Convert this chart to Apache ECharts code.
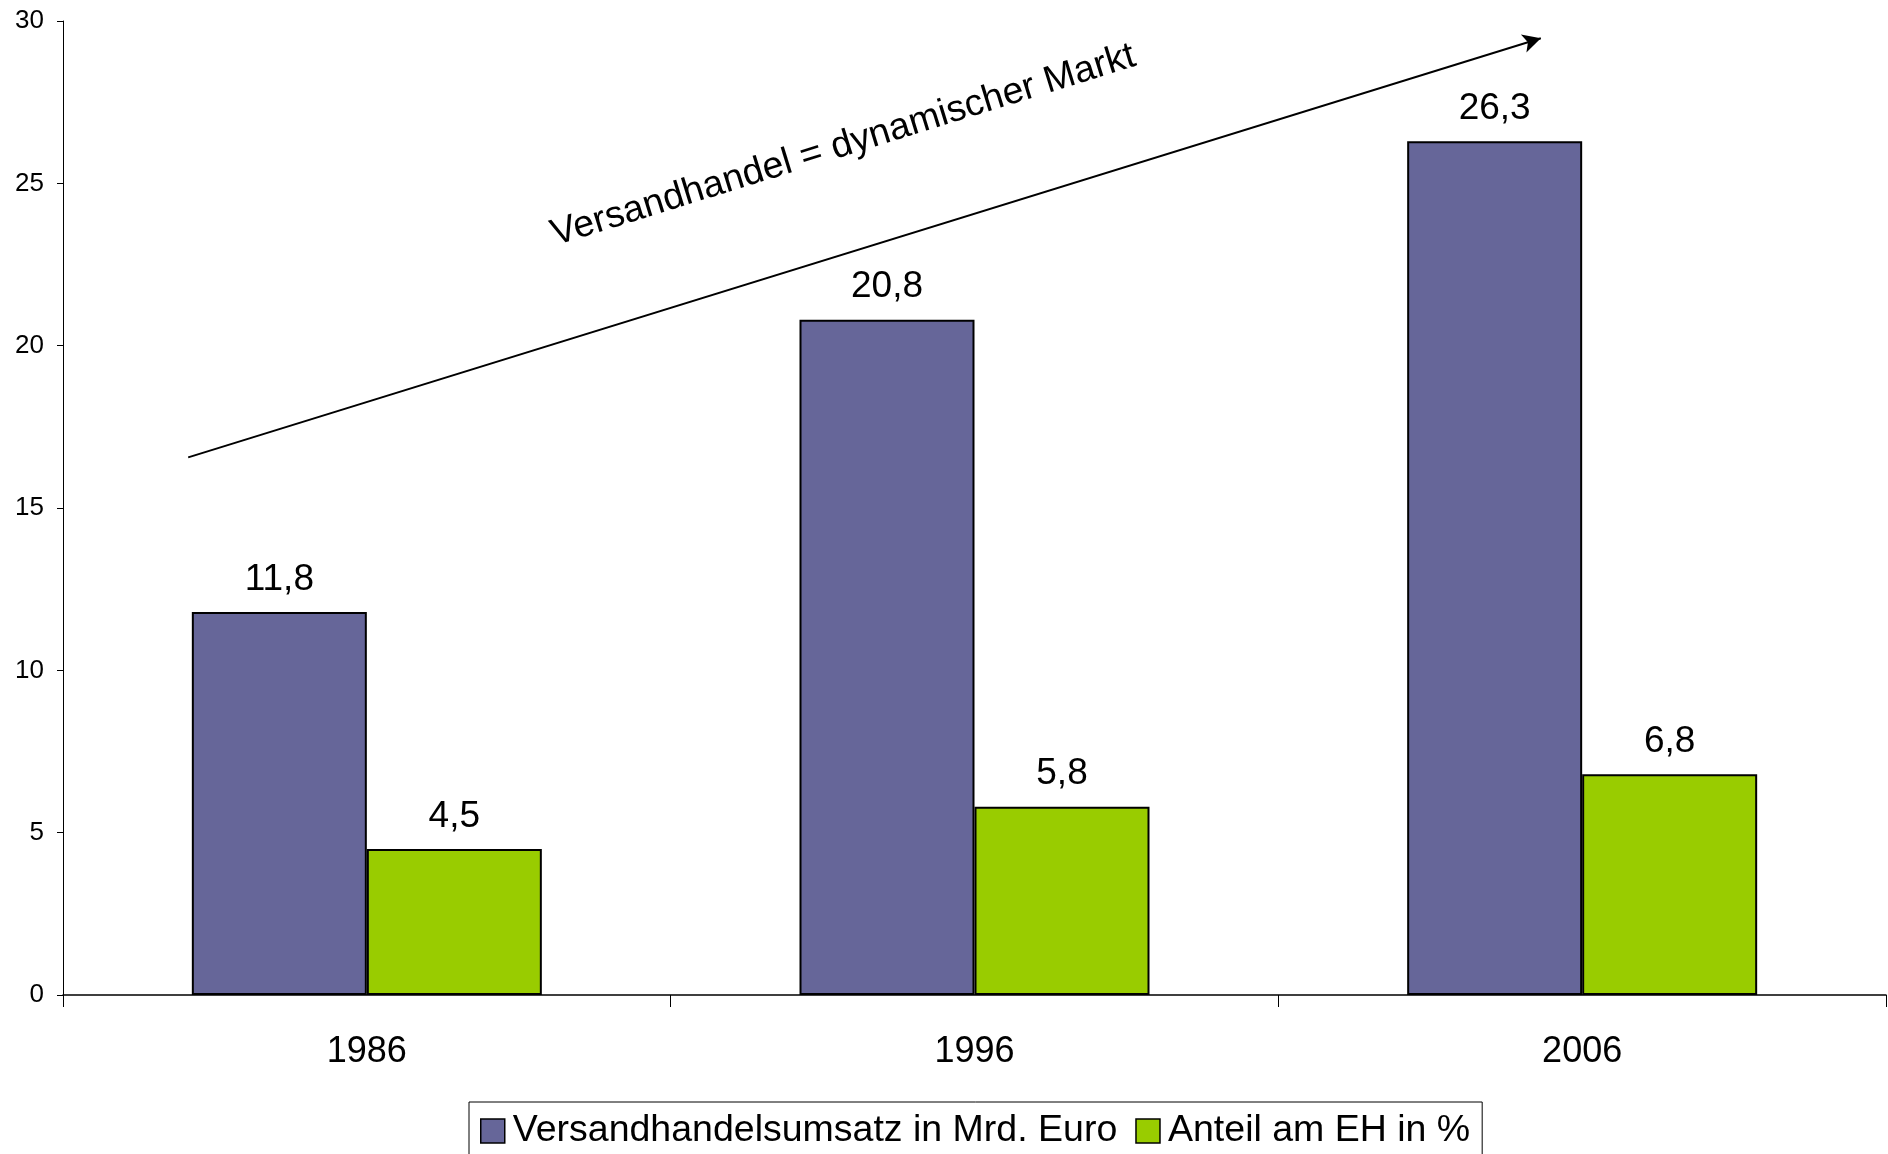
<!DOCTYPE html>
<html>
<head>
<meta charset="utf-8">
<script src="https://cdn.jsdelivr.net/npm/echarts@6/dist/echarts.min.js"></script>
<style>
html,body{margin:0;padding:0;background:#fff;}
#chart{width:1888px;height:1154px;}
</style>
</head>
<body>
<div id="chart"></div>
<script>
// ---- data ----
const categories = ['1986', '1996', '2006'];
const seriesNames = ['Versandhandelsumsatz in Mrd. Euro', 'Anteil am EH in %'];
const umsatz = [11.8, 20.8, 26.3];
const anteil = [4.5, 5.8, 6.8];
const yTicks = [0, 5, 10, 15, 20, 25, 30];
// trend arrow annotation, in data space (x: 0..3 across the category axis, y: value axis)
const arrowStart = [0.206, 16.56];
const arrowEnd = [2.432, 29.47];
const arrowText = 'Versandhandel = dynamischer Markt';

const FONT = '"Liberation Sans", Arial, sans-serif';
const fmt = v => v.toFixed(1).replace('.', ',');

const chart = echarts.init(document.getElementById('chart'), null, {renderer: 'canvas'});
const option = {
  backgroundColor: '#fff',
  animation: false,
  textStyle: {fontFamily: FONT, color: '#000'},
  grid: {left: 63, right: 2, top: 21, bottom: 159, containLabel: false},
  legend: {
    left: 469, top: 1102,
    data: seriesNames,
    selectedMode: false,
    icon: 'rect',
    itemWidth: 24, itemHeight: 24,
    itemGap: 18,
    padding: [9, 12, 5, 11],
    borderColor: '#000', borderWidth: 1,
    textStyle: {fontSize: 37.5, color: '#000', fontFamily: FONT, lineHeight: 40, padding: [0, 0, 0, 3]},
    itemStyle: {borderColor: '#000', borderWidth: 1.5}
  },
  xAxis: [{
    type: 'category',
    data: categories,
    axisLine: {lineStyle: {color: '#000', width: 1.5}},
    axisTick: {show: true, length: 12, lineStyle: {color: '#000', width: 1}},
    axisLabel: {fontSize: 36, color: '#000', margin: 39, fontFamily: FONT},
    splitLine: {show: false}
  }, {
    type: 'value', min: 0, max: 3, show: false
  }],
  yAxis: {
    type: 'value', min: yTicks[0], max: yTicks[yTicks.length - 1], interval: yTicks[1] - yTicks[0],
    axisLine: {show: true, lineStyle: {color: '#000', width: 1}},
    axisTick: {show: true, length: 6, lineStyle: {color: '#000'}},
    axisLabel: {fontSize: 26, color: '#000', margin: 19, fontFamily: FONT},
    splitLine: {show: false}
  },
  series: [{
    name: seriesNames[0], type: 'bar', data: umsatz,
    barWidth: 175, barGap: '0%',
    itemStyle: {color: '#666699', borderColor: '#000', borderWidth: 2},
    label: {show: true, position: 'top', distance: 14, fontSize: 37, color: '#000', fontFamily: FONT,
      formatter: p => fmt(p.value)}
  }, {
    name: seriesNames[1], type: 'bar', data: anteil,
    barWidth: 175, barGap: '0%',
    itemStyle: {color: '#99CC00', borderColor: '#000', borderWidth: 2},
    label: {show: true, position: 'top', distance: 14, fontSize: 37, color: '#000', fontFamily: FONT,
      formatter: p => fmt(p.value)}
  }, {
    name: 'trend', type: 'line', xAxisIndex: 1, yAxisIndex: 0, data: [],
    silent: true,
    markLine: {
      silent: true,
      symbol: ['none', 'arrow'],
      symbolSize: [14, 18],
      lineStyle: {color: '#000', width: 2, type: 'solid'},
      label: {show: true, position: 'insideMiddleTop', distance: 85, formatter: arrowText,
        fontSize: 37.5, color: '#000', fontFamily: FONT, padding: [0, 0, 0, 20]},
      data: [[{coord: arrowStart}, {coord: arrowEnd}]]
    }
  }]
};
chart.setOption(option);
</script>
</body>
</html>
